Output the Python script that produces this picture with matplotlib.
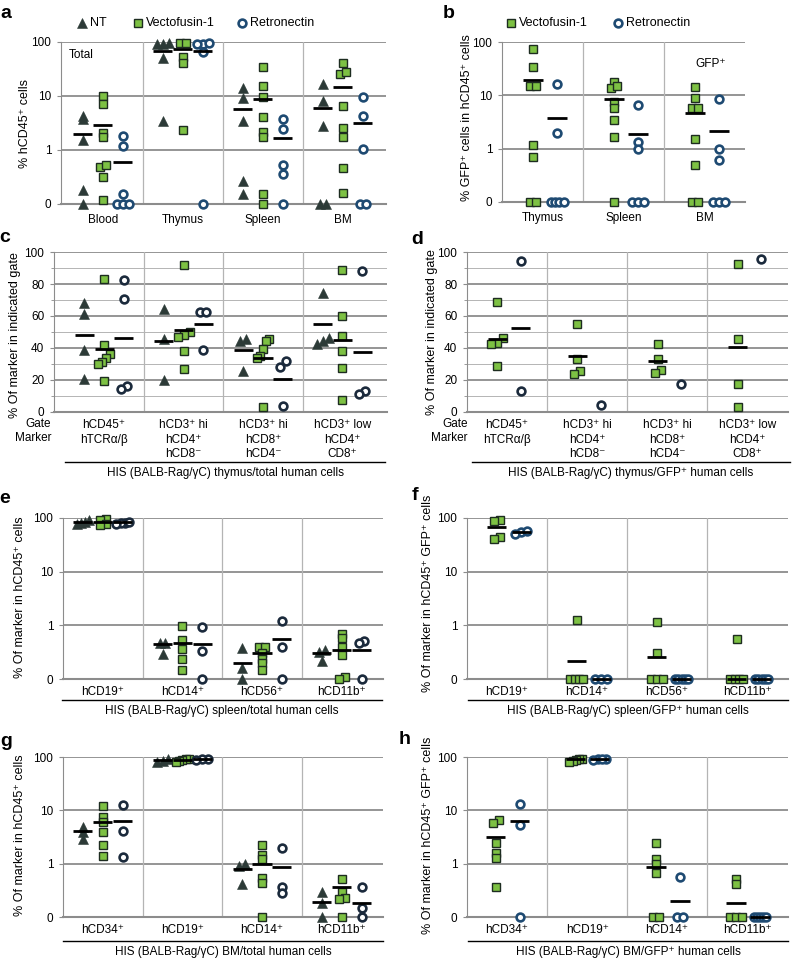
import numpy as np
import matplotlib
matplotlib.use('Agg')
import matplotlib.pyplot as plt
from matplotlib.lines import Line2D

plt.rcParams['font.family'] = ['Liberation Sans', 'DejaVu Sans']
plt.rcParams['font.size'] = 8.5

W, H = 792, 960
GRID = '#8c8c8c'
SEP = '#b4b4b4'

# values in %, 0 = nothing detected (drawn on the "0" line)
a_cats = ['Blood', 'Thymus', 'Spleen', 'BM']
a_nt = [[3.75, 4.3, 1.5, 0.18, 0], [95, 90, 92, 50, 3.5],
        [14, 9.2, 3.4, 0.27, 0.15], [16.6, 8.2, 2.8, 0, 0]]
a_vf = [[10.1, 7.1, 2.1, 1.72, 0.48, 0.53, 0.32, 0.12], [96, 96, 53, 40, 2.35],
        [35, 15, 9.5, 4.1, 2.2, 1.72, 0.15, 0], [41, 26, 27.5, 6.6, 2.56, 1.72, 0.46, 0.157]]
a_rn = [[1.8, 1.17, 0.15, 0, 0, 0], [93, 97, 90, 64, 0],
        [3.75, 2.45, 0.53, 0.36, 0], [9.7, 4.3, 1.06, 0, 0]]
a_nt_mean = [2.0, 67, 5.8, 5.9]
a_vf_mean = [2.95, 74, 8.8, 14.9]
a_rn_mean = [0.6, 69, 1.64, 3.1]

b_cats = ['Thymus', 'Spleen', 'BM']
b_vf = [[75, 34, 15, 15, 1.17, 0.71, 0, 0], [18, 14, 15, 7.5, 5.7, 3.4, 1.68, 0],
        [14.4, 9.1, 5.7, 5.7, 1.5, 0.5, 0, 0]]
b_rn = [[16, 2.0, 0, 0, 0, 0], [6.7, 1.35, 1.0, 0, 0, 0], [8.7, 1.0, 0.6, 0, 0, 0]]
b_vf_mean = [19.2, 8.5, 4.6]
b_rn_mean = [3.7, 1.88, 2.14]

cd_cats = ['hCD45\u207a\nhTCR\u03b1/\u03b2', 'hCD3\u207a hi\nhCD4\u207a\nhCD8\u207b',
           'hCD3\u207a hi\nhCD8\u207a\nhCD4\u207b', 'hCD3\u207a low\nhCD4\u207a\nCD8\u207a']
c_nt = [[68, 61, 39, 20.8], [64.4, 45.6, 20.2], [45.8, 44.2, 25.4], [74.4, 46.3, 44.2, 42.5]]
c_vf = [[83.3, 41.7, 36.5, 33.8, 31.3, 30, 19.6], [91.7, 50, 48.3, 47, 38.3, 26.9],
        [45.6, 44.2, 39.4, 35.2, 33.8, 2.9], [89, 59.8, 47.3, 37.9, 27.5, 7.3]]
c_rn = [[82.7, 70.8, 16.5, 14.6], [62.5, 62.5, 38.5], [31.7, 27.9, 3.5], [88.3, 13.3, 11.3]]
c_nt_mean = [48.3, 44.6, 38.5, 55]
c_vf_mean = [39.2, 51.2, 33.8, 45.2]
c_rn_mean = [46.3, 55, 20.8, 37.5]

d_vf = [[68.8, 46.3, 43.1, 42.5, 29], [55.2, 33.1, 25.4, 24],
        [42.5, 33.3, 26.5, 24.4], [92.7, 45.8, 17.5, 3.3]]
d_rn = [[94.6, 12.9], [4.6], [17.7], [95.6]]
d_vf_mean = [45.8, 34.8, 32.1, 40.6]
d_rn_mean = [52.5, None, None, None]

e_cats = ['hCD19\u207a', 'hCD14\u207a', 'hCD56\u207a', 'hCD11b\u207a']
e_nt = [[90, 85, 80, 78], [0.47, 0.46, 0.29], [0.38, 0.157, 0], [0.34, 0.32, 0.22]]
e_vf = [[95, 90, 78, 75], [0.97, 0.53, 0.36, 0.24, 0.15], [0.4, 0.4, 0.31, 0.24, 0.2, 0.15],
        [0.7, 0.57, 0.4, 0.28, 0.11, 0]]
e_rn = [[82, 80, 78, 85], [0.93, 0.33, 0], [1.19, 0.4, 0], [0.51, 0.46, 0]]
e_nt_mean = [86, 0.44, 0.2, 0.31]
e_vf_mean = [85, 0.47, 0.31, 0.34]
e_rn_mean = [85, 0.44, 0.56, 0.34]

f_vf = [[90, 88, 44, 41], [1.24, 0, 0, 0, 0], [1.15, 0.3, 0, 0, 0], [0.55, 0, 0, 0, 0]]
f_rn = [[55, 50, 58], [0, 0, 0], [0, 0, 0, 0, 0], [0, 0, 0, 0, 0]]
f_vf_mean = [68.7, 0.22, 0.26, 0]
f_rn_mean = [55, 0, 0, 0]

g_cats = ['hCD34\u207a', 'hCD19\u207a', 'hCD14\u207a', 'hCD11b\u207a']
g_nt = [[4.9, 3.95, 2.85], [90, 85, 80], [1.0, 0.92, 0.41], [0.3, 0.18, 0]]
g_vf = [[12.1, 7.5, 6.1, 3.85, 2.23, 1.39], [92, 90, 88, 85, 82],
        [2.23, 1.45, 1.22, 0.55, 0.44, 0], [0.52, 0.3, 0.23, 0.22, 0]]
g_rn = [[12.8, 4.1, 1.31], [92, 90, 88], [1.93, 0.36, 0.28], [0.36, 0.15, 0]]
g_nt_mean = [4.07, 88, 0.78, 0.19]
g_vf_mean = [6.1, 88, 1.0, 0.36]
g_rn_mean = [6.3, 90, 0.88, 0.18]

h_vf = [[6.5, 5.9, 2.46, 1.6, 1.3, 0.37], [92, 90, 88, 85, 80],
        [2.4, 1.22, 0.97, 0.66, 0, 0], [0.52, 0.42, 0, 0, 0]]
h_rn = [[13.4, 5.3, 0], [92, 90, 90, 88], [0.56, 0, 0], [0, 0, 0, 0, 0]]
h_vf_mean = [3.2, 90, 0.87, 0.18]
h_rn_mean = [6.4, 90, 0.2, 0]

BLUE = '#1e4a72'
NAVY = '#1b2a3c'
NT = dict(marker='^', ms=7.6, mfc='#2c3a37', mec='#2c3a37', mew=0.4)
VF = dict(marker='s', ms=5.7, mfc='#7dc143', mec='#1d2c20', mew=1.0)


def RN(col):
    return dict(marker='o', ms=5.6, mfc='white', mec=col, mew=1.9)


fig = plt.figure(figsize=(W / 100, H / 100), dpi=100)


def fx(x):
    return x / W


def fy(y):
    return 1 - y / H


def make_ax(l, r, t, b, xlim, cats, log=True, pad=6):
    ax = fig.add_axes([fx(l), fy(b), (r - l) / W, (b - t) / H])
    ax.set_facecolor('none')
    if log:
        ax.set_yscale('log')
        ax.set_ylim(0.1, 100)
        ax.set_yticks([0.1, 1, 10, 100])
        ax.set_yticklabels(['0', '1', '10', '100'])
        ax.yaxis.set_minor_locator(plt.NullLocator())
        for yv in [1, 10, 100]:
            ax.axhline(yv, color=GRID, lw=1.3, zorder=0)
    else:
        ax.set_ylim(0, 100)
        ax.set_yticks(range(0, 101, 20))
        ax.set_yticks(range(10, 100, 20), minor=True)
        for yv in range(20, 101, 20):
            ax.axhline(yv, color=GRID, lw=1.3, zorder=0)
        for yv in range(10, 100, 20):
            ax.axhline(yv, color=SEP, lw=0.7, zorder=0)
    ax.set_xlim(*xlim)
    for xv in np.arange(0.5, len(cats) - 1, 1):
        ax.axvline(xv, color=SEP, lw=0.9, zorder=0)
    ax.set_xticks(range(len(cats)))
    ax.set_xticklabels(cats)
    for lab in ax.get_xticklabels():
        lab.set_linespacing(1.3)
    ax.tick_params(axis='x', length=0, pad=pad)
    ax.tick_params(axis='y', which='major', direction='out', length=3, color=GRID, pad=4)
    ax.tick_params(axis='y', which='minor', direction='out', length=2, color=GRID)
    for s in ['top', 'right']:
        ax.spines[s].set_visible(False)
    ax.spines['left'].set_color(GRID)
    ax.spines['bottom'].set_color(GRID)
    ax.spines['bottom'].set_linewidth(1.5)
    return ax


def dodge(t, tol):
    # spread points that would sit on top of each other
    order = np.argsort(t, kind='stable')
    offs = np.zeros(len(t))
    groups, cur = [], [order[0]]
    for i in order[1:]:
        if t[i] - t[cur[-1]] < tol:
            cur.append(i)
        else:
            groups.append(cur)
            cur = [i]
    groups.append(cur)
    for g in groups:
        n = len(g)
        step = min(0.075, 0.16 / max(n - 1, 1))
        for k, i in enumerate(g):
            offs[i] = (k - (n - 1) / 2) * step
    return offs


def draw(ax, data, means, xoff, style, log=True):
    for ci, vals in enumerate(data):
        v = np.array(vals, float)
        if log:
            yv = np.maximum(v, 0.1)
            offs = dodge(np.log10(yv), 0.05)
        else:
            yv = v
            offs = dodge(yv, 5)
        ax.plot(ci + xoff + offs, yv, ls='none', clip_on=False, zorder=3, **style)
        m = means[ci]
        if m is not None:
            m = max(m, 0.1) if log else m
            ax.plot([ci + xoff - 0.12, ci + xoff + 0.12], [m, m], color='black', lw=2.0,
                    solid_capstyle='butt', clip_on=False, zorder=4)


def ylab(x, y, s):
    fig.text(fx(x), fy(y), s, rotation=90, ha='center', va='center', fontsize=9)


def letter(x, y, s):
    fig.text(fx(x), fy(y), s, ha='center', va='center', fontsize=14, fontweight='bold')


def caption(x0, x1, y, s):
    fig.add_artist(Line2D([fx(x0), fx(x1)], [fy(y), fy(y)], color='black', lw=1.0))
    fig.text(fx((x0 + x1) / 2), fy(y + 11), s, ha='center', va='center', fontsize=8.5)


def legend_item(x, y, style, s):
    fig.add_artist(Line2D([fx(x)], [fy(y)], ls='none', **style))
    fig.text(fx(x + 8), fy(y), s, ha='left', va='center', fontsize=9)


# a
ax = make_ax(61, 386, 42, 204, (-0.52, 3.54), a_cats, pad=7)
draw(ax, a_nt, a_nt_mean, -0.25, NT)
draw(ax, a_vf, a_vf_mean, 0.0, VF)
draw(ax, a_rn, a_rn_mean, 0.25, RN(BLUE))
ax.text(0.025, 0.92, 'Total', transform=ax.transAxes, ha='left', va='center', fontsize=8.5)
ylab(25, 123, '% hCD45\u207a cells')
letter(6, 13, 'a')
legend_item(82, 23, NT, 'NT')
legend_item(138, 23, VF, 'Vectofusin-1')
legend_item(242, 23, RN(BLUE), 'Retronectin')

# b
ax = make_ax(502, 745, 42, 202, (-0.5, 2.5), b_cats, pad=7)
draw(ax, b_vf, b_vf_mean, -0.12, VF)
draw(ax, b_rn, b_rn_mean, 0.18, RN(BLUE))
ax.text(0.86, 0.86, 'GFP\u207a', transform=ax.transAxes, ha='center', va='center', fontsize=8.5)
ylab(467, 118, '% GFP\u207a cells in hCD45\u207a cells')
letter(449, 13, 'b')
legend_item(511, 23, VF, 'Vectofusin-1')
legend_item(618, 23, RN(BLUE), 'Retronectin')

# c
ax = make_ax(54, 387, 252, 412, (-0.63, 3.56), cd_cats, log=False, pad=5)
draw(ax, c_nt, c_nt_mean, -0.25, NT, log=False)
draw(ax, c_vf, c_vf_mean, 0.0, VF, log=False)
draw(ax, c_rn, c_rn_mean, 0.25, RN(NAVY), log=False)
fig.text(fx(51), fy(431), 'Gate\nMarker', ha='right', va='center', fontsize=8.5, linespacing=1.3)
ylab(15, 335, '% Of marker in indicated gate')
letter(5, 238, 'c')
caption(65, 385, 462, 'HIS (BALB-Rag/\u03b3C) thymus/total human cells')

# d
ax = make_ax(467, 788, 252, 412, (-0.5, 3.51), cd_cats, log=False, pad=5)
draw(ax, d_vf, d_vf_mean, -0.12, VF, log=False)
draw(ax, d_rn, d_rn_mean, 0.17, RN(NAVY), log=False)
fig.text(fx(468), fy(431), 'Gate\nMarker', ha='right', va='center', fontsize=8.5, linespacing=1.3)
ylab(432, 332, '% Of marker in indicated gate')
letter(417, 239, 'd')
caption(472, 790, 462, 'HIS (BALB-Rag/\u03b3C) thymus/GFP\u207a human cells')

# e
ax = make_ax(63, 383, 518, 679, (-0.5, 3.52), e_cats, pad=5)
draw(ax, e_nt, e_nt_mean, -0.25, NT)
draw(ax, e_vf, e_vf_mean, 0.0, VF)
draw(ax, e_rn, e_rn_mean, 0.25, RN(NAVY))
ylab(20, 597, '% Of marker in hCD45\u207a cells')
letter(5, 498, 'e')
caption(62, 382, 700, 'HIS (BALB-Rag/\u03b3C) spleen/total human cells')

# f
ax = make_ax(467, 788, 518, 679, (-0.5, 3.51), e_cats, pad=5)
draw(ax, f_vf, f_vf_mean, -0.13, VF)
draw(ax, f_rn, f_rn_mean, 0.18, RN(BLUE))
ylab(428, 593, '% Of marker in hCD45\u207a GFP\u207a cells')
letter(415, 495, 'f')
caption(468, 788, 700, 'HIS (BALB-Rag/\u03b3C) spleen/GFP\u207a human cells')

# g
ax = make_ax(63, 383, 757, 917, (-0.5, 3.52), g_cats, pad=5)
draw(ax, g_nt, g_nt_mean, -0.25, NT)
draw(ax, g_vf, g_vf_mean, 0.0, VF)
draw(ax, g_rn, g_rn_mean, 0.25, RN(NAVY))
ylab(20, 835, '% Of marker in hCD45\u207a cells')
letter(6, 742, 'g')
caption(63, 383, 941, 'HIS (BALB-Rag/\u03b3C) BM/total human cells')

# h
ax = make_ax(467, 788, 757, 917, (-0.5, 3.51), g_cats, pad=5)
draw(ax, h_vf, h_vf_mean, -0.14, VF)
draw(ax, h_rn, h_rn_mean, 0.16, RN(BLUE))
ylab(428, 835, '% Of marker in hCD45\u207a GFP\u207a cells')
letter(405, 739, 'h')
caption(468, 788, 941, 'HIS (BALB-Rag/\u03b3C) BM/GFP\u207a human cells')

fig.savefig('out.png', dpi=100)
